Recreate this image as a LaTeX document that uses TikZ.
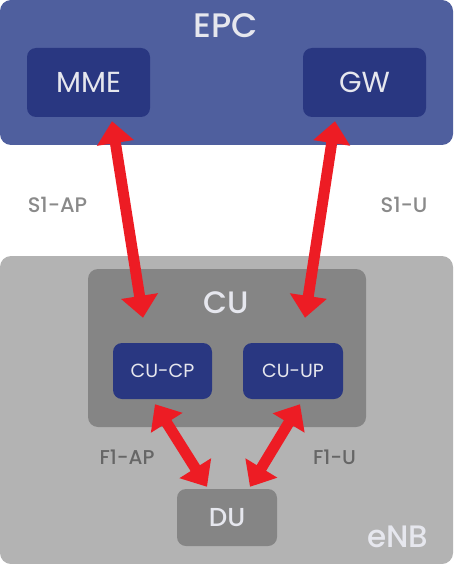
\documentclass[tikz,border=0pt]{standalone}
\usepackage{fontspec}
\setmainfont{Poppins}[UprightFont={* Medium}]
\newfontfamily\unitfont{Poppins}
\usepackage{tikz}
\usetikzlibrary{arrows.meta}

\definecolor{epcblue}{HTML}{4F5F9E}
\definecolor{unitblue}{HTML}{293781}
\definecolor{enbgray}{HTML}{B3B3B3}
\definecolor{cugray}{HTML}{858585}
\definecolor{sigred}{HTML}{ED1C24}
\definecolor{lighttext}{HTML}{E6E7EE}
\definecolor{slabel}{HTML}{8A8A8A}
\definecolor{flabel}{HTML}{666666}

\tikzset{
  unitbox/.style={fill=unitblue,rounded corners=9pt,text=lighttext,inner sep=0pt},
  graybox/.style={fill=cugray,rounded corners=9pt,text=lighttext,inner sep=0pt},
  sig/.style={draw=sigred,line width=11pt,
    {Triangle[width=36pt,length=22pt]}-{Triangle[width=36pt,length=22pt]}}
}

\begin{document}
\begin{tikzpicture}[x=1pt,y=-1pt]
  \useasboundingbox
    (0,0)
    rectangle
    (453,564);
  \fill[epcblue,rounded corners=11pt]
    (0,0)
    rectangle
    (453,145);
  \fill[enbgray,rounded corners=11pt]
    (0,256)
    rectangle
    (453,564);
  \fill[cugray,rounded corners=10pt]
    (88,269)
    rectangle
    (366,427);
  \node[text=lighttext,font=\fontsize{34}{34}\selectfont] (epc) at (226,26) {EPC};
  \node[text=lighttext,font=\fontsize{31}{31}\selectfont] (cu) at (226,303) {CU};
  \node[text=lighttext,font=\fontsize{31}{31}\selectfont,anchor=base east] (enb) at (432,547) {eNB};
  \node[unitbox,minimum width=123pt,minimum height=69pt,font=\unitfont\fontsize{29}{29}\selectfont] (mme) at (88.5,82.5) {MME};
  \node[unitbox,minimum width=123pt,minimum height=69pt,font=\unitfont\fontsize{29}{29}\selectfont] (gw) at (364.5,82.5) {GW};
  \node[unitbox,minimum width=99pt,minimum height=56pt,font=\unitfont\fontsize{19}{19}\selectfont] (cucp) at (162.5,371) {CU-CP};
  \node[unitbox,minimum width=100pt,minimum height=56pt,font=\unitfont\fontsize{19}{19}\selectfont] (cuup) at (293,371) {CU-UP};
  \node[graybox,minimum width=100pt,minimum height=57pt,font=\fontsize{26}{26}\selectfont] (du) at (227,517.5) {DU};
  \node[text=slabel,font=\fontsize{21}{21}\selectfont] (s1ap) at (57.5,205) {S1-AP};
  \node[text=slabel,font=\fontsize{21}{21}\selectfont] (s1u) at (404,205) {S1-U};
  \node[text=flabel,font=\fontsize{20}{20}\selectfont] (f1ap) at (127,457) {F1-AP};
  \node[text=flabel,font=\fontsize{20}{20}\selectfont] (f1u) at (334.5,457) {F1-U};
  \draw[sig]
    ([shift={(23.5,4)}]mme.south)
    --
    ([shift={(-19.5,-25)}]cucp.north);
  \draw[sig]
    ([shift={(-29.5,4)}]gw.south)
    --
    ([shift={(12,-25)}]cuup.north);
  \draw[sig]
    ([shift={(-7.5,5)}]cucp.south)
    --
    ([shift={(-20,-2)}]du.north);
  \draw[sig]
    ([shift={(7,5)}]cuup.south)
    --
    ([shift={(23,-2)}]du.north);
\end{tikzpicture}
\end{document}
